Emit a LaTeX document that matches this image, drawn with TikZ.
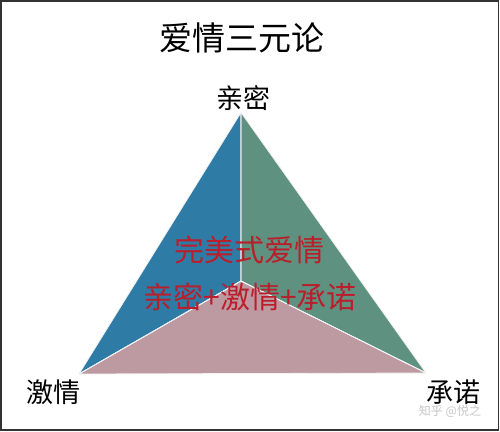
\documentclass[tikz,border=0pt]{standalone}
\usepackage{fontspec}
\setmainfont{Noto Sans CJK SC}
\usepackage{xcolor}
\usetikzlibrary{calc}
\definecolor{intimblue}{HTML}{2E7BA6}
\definecolor{commitgreen}{HTML}{5F9181}
\definecolor{passpink}{HTML}{BD99A2}
\definecolor{lovered}{HTML}{B91F2B}

\begin{document}
\begin{tikzpicture}[x=1pt, y=-1pt, every node/.style={inner sep=0pt}, corner/.style={font=\fontsize{27}{27}\selectfont, text=black}, region/.style={draw=white!90!gray, line width=0.8pt, line join=round}]
  \useasboundingbox (0,0) rectangle (500,431);
  \draw[gray!40!black, line width=1.6pt] (1,1) rectangle (498.5,430);
  \node[font=\fontsize{33}{33}\selectfont] (title) at (242,38) {爱情三元论};
  \coordinate (top) at (241,112.5);
  \coordinate (left) at (79,374);
  \coordinate (right) at (426,373);
  \coordinate (mid) at (241,281);
  \fill[region, fill=intimblue] (top) -- (mid) -- (left) -- cycle;
  \fill[region, fill=commitgreen] (top) -- (right) -- (mid) -- cycle;
  \fill[region, fill=passpink] (left) -- (mid) -- (right) -- cycle;
  \draw[region] (top) -- (mid) (left) -- (mid) -- (right);
  \node[corner] (intim) at (243,98) {亲密};
  \node[corner] (pass) at (53,392) {激情};
  \node[corner] (commit) at (453,392) {承诺};
  \node[font=\fontsize{30}{30}\selectfont, text=lovered] (perfect) at (249,250) {完美式爱情};
  \node[font=\fontsize{30}{30}\selectfont, text=lovered] (sum) at (250,297) {亲密+激情+承诺};
  \node[font=\fontsize{12}{12}\selectfont, text=gray!45] (mark) at (450,411) {知乎 @悦之};
\end{tikzpicture}
\end{document}
